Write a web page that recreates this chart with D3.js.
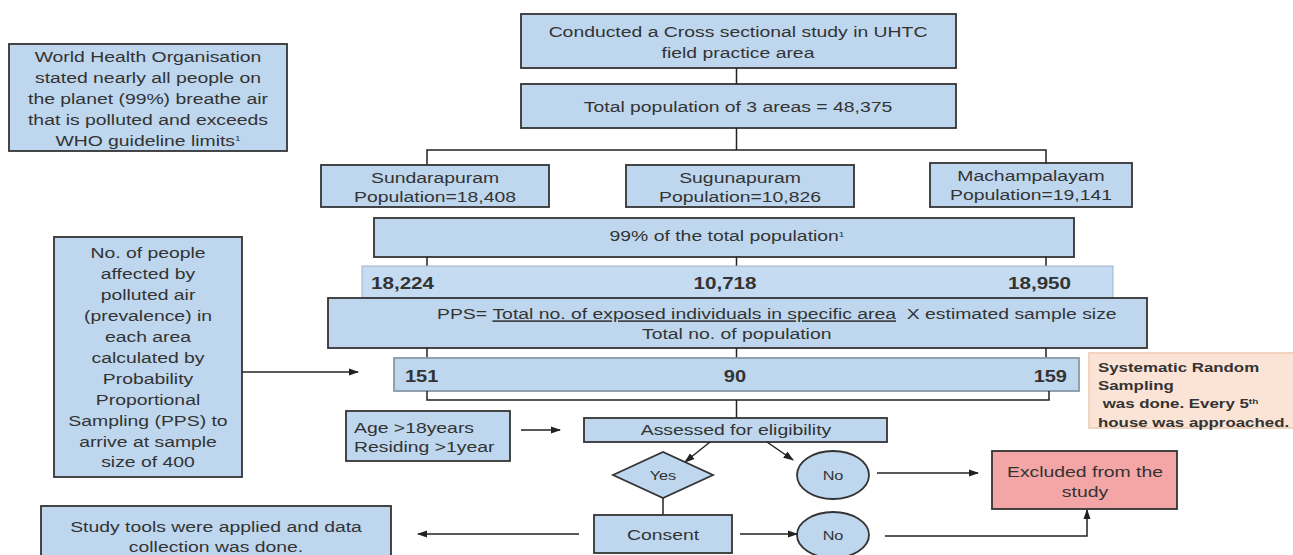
<!DOCTYPE html>
<html>
<head>
<meta charset="utf-8">
<title>Study flowchart</title>
<script src="https://cdnjs.cloudflare.com/ajax/libs/d3/7.8.5/d3.min.js"></script>
<style>
body { margin: 0; background: #fff; }
svg text { font-family: "Liberation Sans", Arial, sans-serif; fill: #333; }
</style>
</head>
<body>
<svg id="chart" width="1293" height="555"></svg>
<script>
// data
var areas = ["Sundarapuram", "Sugunapuram", "Machampalayam"];
var areaPopulation = [18408, 10826, 19141];
var totalPopulation = 48375;
var exposedShare = 99;
var exposed = [18224, 10718, 18950];
var sampleSize = [151, 90, 159];
var sampleTotal = 400;

var whoLines = ["World Health Organisation", "stated nearly all people on",
  "the planet (99%) breathe air", "that is polluted and exceeds", "WHO guideline limits"];
var ppsLines = ["No. of people", "affected by", "polluted air", "(prevalence) in", "each area",
  "calculated by", "Probability", "Proportional", "Sampling (PPS) to", "arrive at sample",
  "size of " + sampleTotal];
var criteria = ["Age >18years", "Residing >1year"];
var samplingLines = ["Systematic Random", "Sampling", "\u00a0was done. Every 5", "house was approached."];

var fmt = d3.format(",");
var SX = 1.25;       // the source image is stretched sideways
var BLUE = "#bed7ee", EDGE = "#333";

var svg = d3.select("#chart");
svg.append("defs").append("marker")
  .attr("id", "arr").attr("viewBox", "0 0 10 10")
  .attr("refX", 9).attr("refY", 5)
  .attr("markerWidth", 7).attr("markerHeight", 7)
  .attr("orient", "auto-start-reverse")
  .append("path").attr("d", "M0,1.5L10,5L0,8.5z").attr("fill", "#222");

var colX = d3.scalePoint().domain(areas).range([427, 1046]);
var mid = colX(areas[1]);

function box(x, y, w, h, fill, stroke) {
  return svg.append("rect").attr("x", x).attr("y", y).attr("width", w).attr("height", h)
    .attr("fill", fill || BLUE).attr("stroke", stroke || EDGE).attr("stroke-width", 1.8);
}
function label(x, y, str, o) {
  o = o || {};
  return svg.append("text")
    .attr("transform", "translate(" + x + "," + y + ") scale(" + SX + ",1)")
    .attr("text-anchor", o.anchor || "middle")
    .attr("dy", "0.35em")
    .attr("font-size", o.size || 15.5)
    .attr("font-weight", o.bold ? "bold" : null)
    .text(str);
}
function lines(x, y0, step, arr, o) {
  arr.forEach(function (s, i) { label(x, y0 + i * step, s, o); });
}
function line(pts, arrow) {
  var p = svg.append("path").attr("d", d3.line()(pts))
    .attr("fill", "none").attr("stroke", "#222").attr("stroke-width", 1.5);
  if (arrow) p.attr("marker-end", "url(#arr)");
  return p;
}
function sup(t, s) {
  t.append("tspan").attr("baseline-shift", "super").attr("font-size", 8).text(s);
}

// left info boxes
box(9, 44, 278, 107);
lines(148, 57, 20.8, whoLines);
sup(svg.selectAll("text").filter(function () { return this.textContent === "WHO guideline limits"; }), "1");

box(54, 237, 188, 240);
lines(148, 253, 20.9, ppsLines);
line([[242, 372], [358, 372]], true);

// top boxes
box(521, 14, 435, 54);
lines(738, 32, 21, ["Conducted a Cross sectional study in UHTC", "field practice area"]);
box(521, 84, 435, 44);
label(738, 107, "Total population of 3 areas = " + fmt(totalPopulation));

line([[mid, 68], [mid, 84]]);
line([[mid, 128], [mid, 150]]);
line([[colX(areas[0]), 165], [colX(areas[0]), 150], [colX(areas[2]), 150], [colX(areas[2]), 163]]);

// area boxes
var areaBox = [[321, 165, 228, 42], [626, 165, 228, 42], [930, 163, 202, 44]];
areas.forEach(function (a, i) {
  var b = areaBox[i];
  box(b[0], b[1], b[2], b[3]);
  lines(b[0] + b[2] / 2, b[1] + 13, 19, [a, "Population=" + fmt(areaPopulation[i])]);
});

// 99% box
box(374, 218, 700, 39);
sup(label(727, 236, exposedShare + "% of the total population"), "1");

areas.forEach(function (a) { line([[colX(a), 257], [colX(a), 266]]); });

// exposed band
svg.append("rect").attr("x", 362).attr("y", 266).attr("width", 751).attr("height", 32)
  .attr("fill", "#c4dbf1").attr("stroke", "#9fb3c6").attr("stroke-width", 1);
var bandX = [371, 725, 1071], anchors = ["start", "middle", "end"];
exposed.forEach(function (v, i) {
  label(bandX[i], 283, fmt(v), { bold: true, size: 16.5, anchor: anchors[i] });
});

// PPS formula box
box(328, 298, 819, 50);
var f = label(437, 314, "PPS= ", { anchor: "start" }).attr("xml:space", "preserve");
f.append("tspan").attr("text-decoration", "underline").text("Total no. of exposed individuals in specific area");
f.append("tspan").text("\u00a0 X estimated sample size");
label(642, 334, "Total no. of population", { anchor: "start" });

areas.forEach(function (a) { line([[colX(a), 348], [colX(a), 358]]); });

// sample size box
box(394, 358, 685, 33, BLUE, "#8a98a6");
var sampX = [405, 735, 1067];
sampleSize.forEach(function (v, i) {
  label(sampX[i], 376, v, { bold: true, size: 16, anchor: anchors[i] });
});
line([[colX(areas[0]), 391], [colX(areas[0]), 400], [1049, 400], [1049, 391]]);
line([[mid, 400], [mid, 418]]);

// sampling note
box(1089, 353, 210, 75, "#fbe4d5", "#f0d0bc");
samplingLines.forEach(function (s, i) {
  var t = label(1098, 367 + i * 18.3, s, { anchor: "start", bold: true, size: 13.5 });
  if (i === 2) sup(t, "th");
});

// eligibility
box(346, 411, 164, 50);
lines(354, 428, 19, criteria, { anchor: "start" });
line([[521, 430], [560, 430]], true);

box(584, 418, 303, 24);
label(736, 430, "Assessed for eligibility");

line([[710, 442], [685, 462]], true);
line([[767, 442], [793, 460]], true);

svg.append("path").attr("d", d3.line()([[613, 475], [663, 452], [713, 475], [663, 498]]) + "Z")
  .attr("fill", BLUE).attr("stroke", EDGE).attr("stroke-width", 1.8);
label(663, 475, "Yes", { size: 13 });
line([[663, 498], [663, 515]]);

box(594, 515, 138, 38);
label(663, 535, "Consent");

[[475, 24], [535, 23]].forEach(function (e) {
  svg.append("ellipse").attr("cx", 833).attr("cy", e[0]).attr("rx", 36).attr("ry", e[1])
    .attr("fill", BLUE).attr("stroke", EDGE).attr("stroke-width", 1.8);
  label(833, e[0], "No", { size: 13 });
});

line([[877, 473], [978, 473]], true);
line([[740, 534], [797, 534]], true);
line([[579, 534], [418, 534]], true);
line([[885, 536], [1087, 536], [1087, 510]], true);

box(992, 451, 185, 58, "#f4a5a5");
lines(1085, 472, 20, ["Excluded from the", "study"]);

box(41, 506, 350, 52);
lines(216, 527, 20, ["Study tools were applied and data", "collection was done."]);
</script>
</body>
</html>
